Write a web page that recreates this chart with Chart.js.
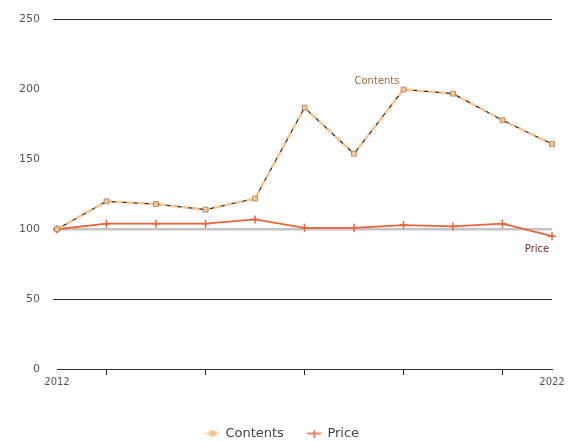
<!DOCTYPE html>
<html lang="en">
<head>
    <meta charset="UTF-8">
    <title>Contents vs Price</title>
    <style>
        body {
            margin: 0;
            padding: 0;
            background-color: #fff;
        }
        #chart {
            display: block;
        }
    </style>
    <script src="https://cdn.jsdelivr.net/npm/chart.js"></script>
</head>
<body>
    <canvas id="chart" width="573" height="441"></canvas>

    <script>
        // data
        const years = ['2012', '2013', '2014', '2015', '2016', '2017', '2018', '2019', '2020', '2021', '2022'];
        const contents = [100, 120, 118, 114, 122, 187, 154, 200, 197, 178, 161];
        const price = [100, 104, 104, 104, 107, 101, 101, 103, 102, 104, 95];
        const yTicks = [0, 50, 100, 150, 200, 250];

        const peach = '#ffc48c';
        const rust = '#e8643a';

        // little "line + marker" swatch for the legend
        function swatch(color, kind) {
            const c = document.createElement('canvas');
            c.width = 14;
            c.height = 8;
            const g = c.getContext('2d');
            g.strokeStyle = color;
            g.fillStyle = color;
            g.lineWidth = 1.5;
            g.beginPath();
            g.moveTo(0, 4);
            g.lineTo(14, 4);
            g.stroke();
            if (kind === 'rect') {
                g.fillRect(4, 1, 6, 6);
            } else {
                g.beginPath();
                g.moveTo(7, 0);
                g.lineTo(7, 8);
                g.stroke();
            }
            return c;
        }

        // draws the series name next to a chosen point
        const seriesLabels = {
            id: 'seriesLabels',
            afterDatasetsDraw(chart) {
                const ctx = chart.ctx;
                chart.data.datasets.forEach((ds, i) => {
                    if (!ds.tag) return;
                    const pt = chart.getDatasetMeta(i).data[ds.tag.index];
                    ctx.save();
                    ctx.font = '10px "DejaVu Sans"';
                    ctx.fillStyle = ds.tag.color;
                    ctx.textAlign = ds.tag.align;
                    ctx.textBaseline = 'middle';
                    ctx.fillText(ds.label, pt.x + ds.tag.dx, pt.y + ds.tag.dy);
                    ctx.restore();
                });
            }
        };

        const ctx = document.getElementById('chart').getContext('2d');
        const chart = new Chart(ctx, {
            type: 'line',
            data: {
                labels: years,
                datasets: [
                    {
                        label: 'Contents',
                        data: contents,
                        borderColor: peach,
                        backgroundColor: peach,
                        borderWidth: 2.5,
                        borderDash: [7, 4],
                        pointStyle: 'rect',
                        pointRadius: 3.5,
                        pointBorderColor: '#6a4a30',
                        pointBorderWidth: 0.5,
                        tension: 0,
                        order: 1,
                        tag: { index: 7, dx: -4, dy: -8, align: 'right', color: '#9a6a3a' }
                    },
                    {
                        // dark under-stroke that shows through the dashes
                        label: 'contents-shadow',
                        data: contents,
                        borderColor: '#222',
                        borderWidth: 1.2,
                        pointRadius: 0,
                        tension: 0,
                        order: 3
                    },
                    {
                        label: 'Price',
                        data: price,
                        borderColor: rust,
                        backgroundColor: rust,
                        borderWidth: 1.8,
                        pointStyle: 'cross',
                        pointRadius: 4,
                        pointBorderWidth: 1.5,
                        tension: 0,
                        order: 2,
                        tag: { index: 10, dx: -15, dy: 13, align: 'center', color: '#6a3020' }
                    }
                ]
            },
            options: {
                responsive: false,
                animation: false,
                layout: {
                    padding: { top: 16, right: 21, left: 13, bottom: -9 }
                },
                plugins: {
                    tooltip: { enabled: false },
                    legend: {
                        position: 'bottom',
                        labels: {
                            usePointStyle: true,
                            padding: 24,
                            color: '#444',
                            font: { family: 'DejaVu Sans', size: 13 },
                            filter: item => item.text !== 'contents-shadow',
                            generateLabels(chart) {
                                const items = Chart.defaults.plugins.legend.labels.generateLabels(chart);
                                items.forEach(it => {
                                    if (it.text === 'Contents') it.pointStyle = swatch(peach, 'rect');
                                    if (it.text === 'Price') it.pointStyle = swatch(rust, 'cross');
                                });
                                return items;
                            }
                        }
                    }
                },
                scales: {
                    x: {
                        offset: false,
                        afterFit(scale) { scale.height = 34; },
                        border: { color: '#333', width: 1 },
                        grid: {
                            drawOnChartArea: false,
                            tickLength: 6,
                            tickColor: c => (c.index % 2 === 1 ? '#222' : 'rgba(0,0,0,0)')
                        },
                        ticks: {
                            autoSkip: false,
                            maxRotation: 0,
                            padding: 1,
                            color: '#555',
                            font: { family: 'DejaVu Sans', size: 10 },
                            callback(v, i) {
                                return (i === 0 || i === years.length - 1) ? years[i] : '';
                            }
                        }
                    },
                    y: {
                        min: yTicks[0],
                        max: yTicks[yTicks.length - 1],
                        afterFit(scale) { scale.width = 44; },
                        afterBuildTicks(scale) {
                            scale.ticks = yTicks.map(v => ({ value: v }));
                        },
                        border: { display: false },
                        grid: {
                            tickLength: 4,
                            color: c => {
                                const v = c.tick.value;
                                if (v === 100) return '#c4c4c4';
                                if (v === 250 || v === 50) return '#333';
                                return 'rgba(0,0,0,0)';
                            },
                            lineWidth: c => (c.tick.value === 100 ? 2.5 : 1)
                        },
                        ticks: {
                            padding: 13,
                            color: '#555',
                            font: { family: 'DejaVu Sans', size: 11 }
                        }
                    }
                }
            },
            plugins: [seriesLabels]
        });
    </script>
</body>
</html>
